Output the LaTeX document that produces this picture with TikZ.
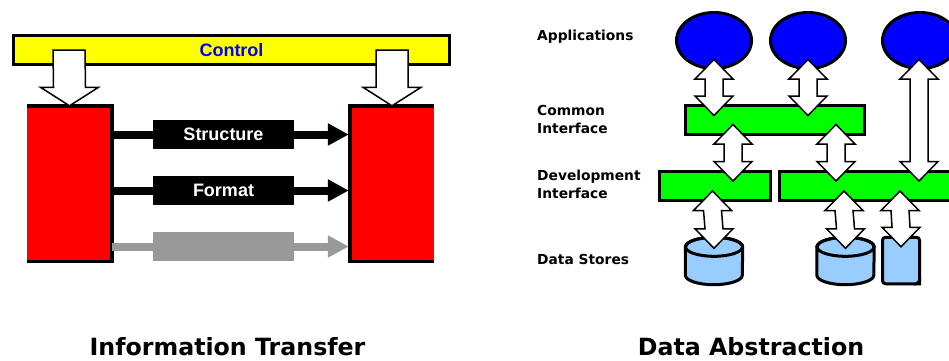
\documentclass[tikz,border=0pt]{standalone}
\usepackage{fontspec}
\setmainfont{Liberation Sans}
\newfontfamily\tahomalike{DejaVu Sans}
\usetikzlibrary{shapes.geometric,arrows.meta,calc}
\definecolor{storeblue}{HTML}{99CCFF}
\definecolor{midgray}{HTML}{999999}
\definecolor{ctrlyellow}{RGB}{255,255,0}
\definecolor{layergreen}{RGB}{0,255,0}
\definecolor{appblue}{RGB}{0,0,255}
\definecolor{blockred}{RGB}{255,0,0}

\tikzset{
style1/.style= {rectangle,draw,line width=3pt,fill=ctrlyellow,text=appblue,inner sep=0pt,minimum width=436pt,minimum height=29pt,font=\bfseries\fontsize{18}{20}\selectfont},
style2/.style= {rectangle,fill=blockred,inner sep=0pt,minimum height=155.5pt},
style3/.style= {rectangle,fill=black,text=white,inner sep=0pt,minimum width=141pt,minimum height=29pt,font=\bfseries\fontsize{18}{20}\selectfont},
style4/.style= {ellipse,draw,line width=3pt,fill=appblue,inner sep=0pt,minimum width=75pt,minimum height=56pt},
style5/.style= {rectangle,draw,line width=3pt,fill=layergreen,inner sep=0pt,minimum height=29pt},
style6/.style= {rectangle,inner sep=0pt,minimum width=57pt,minimum height=47pt},
style7/.style= {anchor=west,align=left,inner sep=0pt,font=\tahomalike\bfseries\fontsize{13.8}{18}\selectfont},
style8/.style= {inner sep=0pt,font=\tahomalike\bfseries\fontsize{23.7}{26}\selectfont},
down/.style= {draw,line width=1.5pt,fill=white,line join=miter,to path={
  -- ($(\tikztostart)+(16,0)$) -- ($(\tikztotarget)+(16,-18.5)$) -- ($(\tikztotarget)+(29,-18.5)$)
  -- (\tikztotarget)
  -- ($(\tikztotarget)+(-29,-18.5)$) -- ($(\tikztotarget)+(-16,-18.5)$) -- ($(\tikztostart)+(-16,0)$) -- cycle}},
twoway/.style= {draw,line width=1.5pt,fill=white,line join=miter,to path={
  -- ($(\tikztostart)+(19,19.5)$) -- ($(\tikztostart)+(9,19.5)$) -- ($(\tikztotarget)+(9,-19.5)$) -- ($(\tikztotarget)+(19,-19.5)$)
  -- (\tikztotarget)
  -- ($(\tikztotarget)+(-19,-19.5)$) -- ($(\tikztotarget)+(-9,-19.5)$) -- ($(\tikztostart)+(-9,19.5)$) -- ($(\tikztostart)+(-19,19.5)$) -- cycle}}
}

% a drum drawn on the frame of a style6 node
\newcommand{\drum}[1]{
  \filldraw[line width=3pt,fill=storeblue] ($(#1.north west)+(0,9.5)$) -- ($(#1.south west)+(0,-9.5)$)
    arc (180:360:28.5pt and 9.5pt) -- ($(#1.north east)+(0,9.5)$)
    arc (0:180:28.5pt and 9.5pt) -- cycle;
  \draw[line width=3pt] ($(#1.north)+(0,9.5)$) ellipse (28.5pt and 9.5pt);
}

\begin{document}
\begin{tikzpicture}[
x=1pt,y=-1pt,
>={Triangle[length=21pt,width=21pt]}]
\path[use as bounding box,clip] (0,0) rectangle (949,360);

% the left half: control bar and the two red blocks
\node[style1] (ctrl) at (231.5,50) {Control};
\node[style2,minimum width=85pt] (l) at (69.5,183.75) {};
\node[style2,minimum width=84pt] (r) at (392,183.75) {};
\draw[line width=3.5pt] (l.north west) -- (l.north east) -- (l.south east) -- (l.south west);
\draw[line width=3.5pt] (r.north east) -- (r.north west) -- (r.south west) -- (r.south east);

% lines from the left block through each label to the right block
\node[style3,fill=none] (s1) at (223.5,134.5) {};
\node[style3,fill=none] (s2) at (223.5,190.5) {};
\node[style3,fill=none] (s3) at (223.5,246.5) {};
\foreach \value/\col in {1/black,2/black,3/midgray}
  \draw[line width=8pt,->,\col,shorten >=1pt] (l.east |- s\value) -- (r.west |- s\value);
\foreach \value/\col/\txt in {1/black/Structure,2/black/Format,3/midgray/{}}
  \node[style3,fill=\col] at (s\value) {\txt};

\draw[down] ($(ctrl.north west)+(57,16)$) to (l.north);
\draw[down] ($(ctrl.north east)+(-59,16)$) to (r.north);

% the right half: the four layers
\node[style4] (a1) at (714,40.5) {};
\node[style4] (a2) at (808,40.5) {};
\node[style4] (a3) at (920,40.5) {};

\node[style5,minimum width=179pt] (c1) at (775,120) {};
\node[style5,minimum width=111pt] (d1) at (715,186) {};
\node[style5,minimum width=200pt] (d2) at (879.5,186) {};

\node[style6] (st1) at (714,261) {};
\node[style6] (st2) at (845.5,261) {};
\drum{st1}
\drum{st2}
\node[rectangle,draw,line width=3pt,fill=storeblue,rounded corners=3pt,inner sep=0pt,minimum width=37pt,minimum height=46.5pt] (st3) at (901,260.5) {};
\fill (st3.south east) -- ++(-8,0) -- ++(8,-8) -- cycle;

\node[style7] (t1) at (537,37) {Applications};
\node[style7] (t2) at (537,119.5) {Common\\Interface};
\node[style7] (t3) at (537,184.5) {Development\\Interface};
\node[style7] (t4) at (537,259) {Data Stores};

\node[style8] (t5) at (227.5,347) {Information Transfer};
\node[style8] (t6) at (751,347) {Data Abstraction};

% block arrows between the layers
\draw[twoway] ($(a1.south)+(0,-10.5)$) to ($(c1.north west)+(30,11.5)$);
\draw[twoway] ($(a2.south)+(0,-10.5)$) to ($(c1.north west)+(124,11.5)$);
\draw[twoway] ($(a3.south)+(-1,-10.5)$) to ($(d2.north west)+(141,11)$);
\draw[twoway] ($(c1.south west)+(49,-11.5)$) to ($(d1.north west)+(75,11)$);
\draw[twoway] ($(c1.south west)+(152,-11.5)$) to ($(d2.north west)+(58,11)$);
\draw[twoway] ($(d1.south west)+(54.5,-11)$) to ($(st1.north)+(0,11)$);
\draw[twoway] ($(d2.south west)+(66,-11)$) to ($(st2.north)+(0,11)$);
\draw[twoway] ($(d2.south west)+(122,-11)$) to ($(st3.north)+(0,11)$);
\end{tikzpicture}
\end{document}
